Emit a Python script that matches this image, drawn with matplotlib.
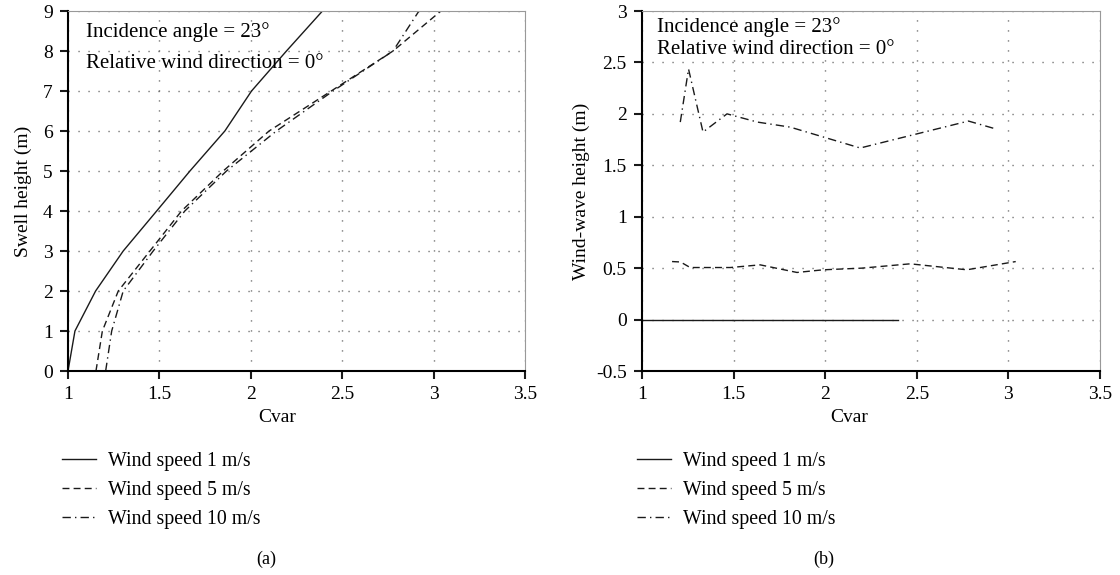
import matplotlib
matplotlib.use("Agg")
import matplotlib.pyplot as plt

plt.rcParams['font.family'] = ['Liberation Serif', 'DejaVu Serif']
plt.rcParams['font.size'] = 14

# (a) swell height vs Cvar
swell_h = [0, 1, 2, 3, 4, 5, 6, 7, 8, 9]
cvar_1 = [1.0, 1.038, 1.151, 1.302, 1.485, 1.667, 1.858, 2.004, 2.195, 2.392]
cvar_5 = [1.153, 1.188, 1.275, 1.448, 1.621, 1.849, 2.10, 2.44, 2.778, 3.04]
cvar_10 = [1.206, 1.239, 1.302, 1.466, 1.639, 1.867, 2.14, 2.45, 2.778, 2.92]

# (b) wind-wave height vs Cvar
cvar_b1 = [1.0, 2.397]
wave_1 = [0, 0]
cvar_b5 = [1.164, 1.21, 1.263, 1.482, 1.645, 1.846, 1.99, 2.2, 2.464, 2.773, 3.04]
wave_5 = [0.564, 0.56, 0.506, 0.506, 0.532, 0.458, 0.484, 0.5, 0.542, 0.484, 0.564]
cvar_b10 = [1.209, 1.254, 1.333, 1.464, 1.63, 1.809, 2.191, 2.782, 2.928]
wave_10 = [1.92, 2.436, 1.823, 2.0, 1.92, 1.871, 1.668, 1.93, 1.855]

labels = ["Wind speed 1 m/s", "Wind speed 5 m/s", "Wind speed 10 m/s"]
styles = [dict(ls='-'), dict(ls=(0, (5, 3))), dict(ls=(0, (6, 3, 1, 3)))]

W, H = 1120, 575
fig = plt.figure(figsize=(11.2, 5.75), dpi=100)
ax1 = fig.add_axes([68 / W, 1 - 371 / H, 457 / W, 360 / H])
ax2 = fig.add_axes([642 / W, 1 - 371 / H, 458 / W, 360 / H])

lines = []
for xs, st, lab in zip([cvar_1, cvar_5, cvar_10], styles, labels):
    l, = ax1.plot(xs, swell_h, color='#1a1a1a', lw=1.0, label=lab, **st)
    lines.append(l)
ax2.plot(cvar_b1, wave_1, color='#1a1a1a', lw=1.0, **styles[0])
ax2.plot(cvar_b5, wave_5, color='#1a1a1a', lw=1.0, **styles[1])
ax2.plot(cvar_b10, wave_10, color='#1a1a1a', lw=1.0, **styles[2])

ax1.set_xlim(1, 3.5)
ax1.set_ylim(0, 9)
ax1.set_yticks(range(0, 10))
ax1.set_ylabel("Swell height (m)", labelpad=8)
ax2.set_xlim(1, 3.5)
ax2.set_ylim(-0.5, 3)
ax2.set_yticks([-0.5, 0, 0.5, 1, 1.5, 2, 2.5, 3])
ax2.set_yticklabels(["-0.5", "0", "0.5", "1", "1.5", "2", "2.5", "3"])
ax2.set_ylabel("Wind-wave height (m)")

for ax, xl in [(ax1, 0.457), (ax2, 0.453)]:
    ax.set_xticks([1, 1.5, 2, 2.5, 3, 3.5])
    ax.set_xticklabels(["1", "1.5", "2", "2.5", "3", "3.5"])
    ax.set_xlabel("Cvar", x=xl, labelpad=4)
    ax.grid(True, color='#555555', lw=1.0, dashes=(0.8, 6.4))
    ax.tick_params(direction='out', length=6, width=1.5, color='#1a1a1a', pad=5)
    ax.spines['left'].set_linewidth(1.5)
    ax.spines['bottom'].set_linewidth(1.5)
    for s in ['top', 'right']:
        ax.spines[s].set_color('#999999')
        ax.spines[s].set_linewidth(0.8)

ax1.text(86, 575 - 32, "Incidence angle = 23°", transform=None, va='center', fontsize=15)
ax1.text(86, 575 - 63, "Relative wind direction = 0°", transform=None, va='center', fontsize=15)
ax2.text(657, 575 - 27, "Incidence angle = 23°", transform=None, va='center', fontsize=15)
ax2.text(657, 575 - 49, "Relative wind direction = 0°", transform=None, va='center', fontsize=15)

for xa in [62, 637]:
    fig.legend(lines, labels, loc='upper left', bbox_to_anchor=(xa / W, 1 - 452 / H),
               frameon=False, handlelength=1.7, handletextpad=0.6, labelspacing=0.5,
               borderaxespad=0, borderpad=0, fontsize=14.3)
fig.text(266 / W, 1 - 559 / H, "(a)", ha='center', va='center', fontsize=13)
fig.text(824 / W, 1 - 559 / H, "(b)", ha='center', va='center', fontsize=13)

fig.savefig("out.png", dpi=100)
